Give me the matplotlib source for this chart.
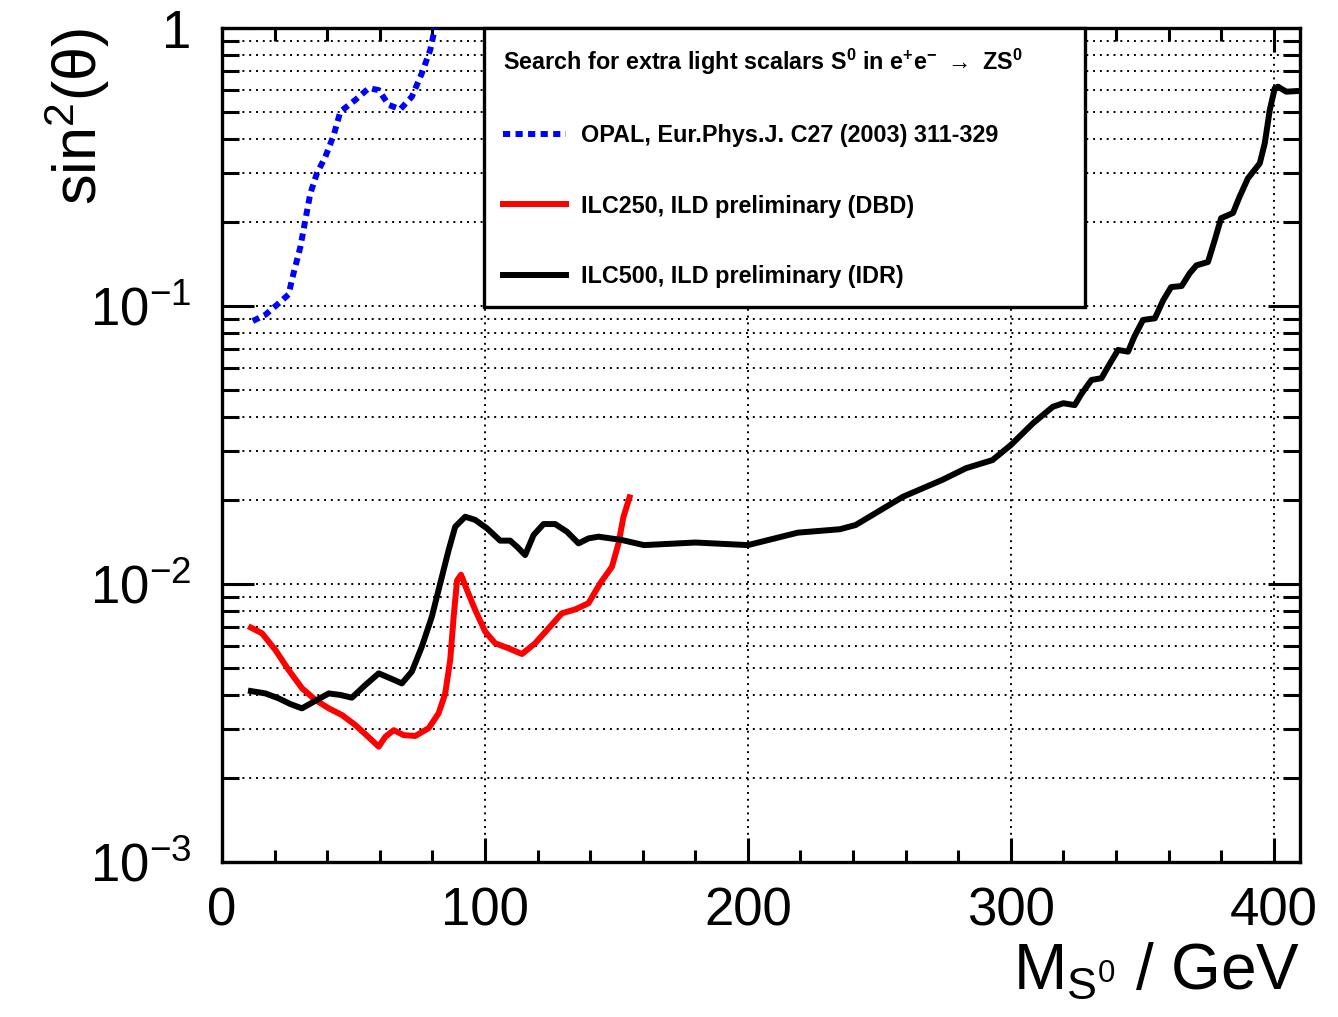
import matplotlib
matplotlib.use("Agg")
import matplotlib.pyplot as plt
from matplotlib.ticker import FixedLocator, FixedFormatter, LogLocator, NullFormatter, MultipleLocator

plt.rcParams['font.family'] = ['Liberation Sans', 'DejaVu Sans']
plt.rcParams['mathtext.default'] = 'regular'

# OPAL limit (blue dotted)
mass_opal = [11.7, 16.5, 20.9, 25.3, 27.2, 29.8, 31.7, 33.6, 36.1, 39.3, 42.5, 45,
             50.7, 55.8, 59.6, 63.4, 67.8, 72.2, 76, 79.2, 81]
sin2_opal = [0.0883, 0.093, 0.101, 0.11, 0.131, 0.163, 0.204, 0.254, 0.30, 0.344, 0.412, 0.5,
             0.551, 0.607, 0.598, 0.529, 0.51, 0.566, 0.687, 0.834, 1.0]

# ILC250, DBD
mass_ilc250 = [11, 15.2, 20.3, 25.3, 30.4, 35.5, 40.6, 45.6, 50.7, 55.8, 59.6, 62.1, 65.3,
               69.1, 73.5, 78.6, 82.4, 84.9, 86.8, 88.1, 89.4, 90.9, 93.2, 96.3, 100.1, 103.9,
               109, 114.1, 119.1, 124.2, 129.3, 134.3, 139.4, 143.8, 148.3, 150.8, 152.7, 155]
sin2_ilc250 = [0.00697, 0.00665, 0.00579, 0.00491, 0.00422, 0.00383, 0.00357, 0.00338, 0.00311,
               0.00281, 0.0026, 0.00282, 0.00298, 0.00286, 0.00284, 0.00303, 0.00343, 0.00404,
               0.00533, 0.00762, 0.0103, 0.0108, 0.0095, 0.00806, 0.00674, 0.00612, 0.00587,
               0.0056, 0.00612, 0.00693, 0.00785, 0.0081, 0.00853, 0.01005, 0.01153, 0.014,
               0.01746, 0.0205]

# ILC500, IDR
mass_ilc500 = [11, 16.5, 21.5, 26, 30.4, 35.5, 40.6, 45, 49.4, 54.5, 59.6, 64, 68.4, 72.2, 76,
               79.8, 83, 86.2, 88.7, 92.5, 96.3, 100.8, 105.8, 109.6, 112.2, 115.3, 118.5, 122.3,
               126.7, 131.2, 135.6, 139.4, 143.2, 152, 160.5, 180, 200, 219, 235, 241, 259, 274,
               283, 293, 300, 308.5, 316, 320, 324.3, 327, 330.7, 334.5, 337, 340.8, 344.6, 347,
               350.3, 354.8, 358, 361, 365, 368, 370.6, 375, 377.6, 380, 384.5, 387, 390.2, 394.7,
               396.6, 398.5, 400.4, 401.6, 404.8, 408.5]
sin2_ilc500 = [0.00412, 0.00404, 0.00388, 0.0037, 0.00357, 0.0038, 0.00404, 0.00399, 0.0039,
               0.00433, 0.00477, 0.00458, 0.00439, 0.00484, 0.00595, 0.00762, 0.01005, 0.01325,
               0.01607, 0.01746, 0.0170, 0.01585, 0.01432, 0.01432, 0.01362, 0.01271, 0.0150,
               0.01643, 0.01643, 0.01542, 0.0140, 0.01459, 0.0148, 0.0144, 0.0138, 0.0141, 0.0138,
               0.0153, 0.01574, 0.0163, 0.0206, 0.0237, 0.0261, 0.0279, 0.0316, 0.0379, 0.0434,
               0.0447, 0.044, 0.0485, 0.0542, 0.055, 0.0605, 0.0695, 0.0685, 0.0776, 0.0891,
               0.0903, 0.105, 0.117, 0.118, 0.131, 0.14, 0.144, 0.173, 0.207, 0.216, 0.247, 0.288,
               0.326, 0.385, 0.507, 0.607, 0.615, 0.59, 0.593]

y_ticks = [1e-3, 1e-2, 1e-1, 1]
y_ticklabels = [r'$10^{-3}$', r'$10^{-2}$', r'$10^{-1}$', '1']

legend_title = r'Search for extra light scalars S$^{0}$ in e$^{+}$e$^{-}$ $\rightarrow$ ZS$^{0}$'
label_opal = 'OPAL, Eur.Phys.J. C27 (2003) 311-329'
label_ilc250 = 'ILC250, ILD preliminary (DBD)'
label_ilc500 = 'ILC500, ILD preliminary (IDR)'

fig = plt.figure(figsize=(13.38, 10.17), dpi=100)
ax = fig.add_axes([222 / 1338, 1 - 862 / 1017, 1078 / 1338, 834 / 1017])

ax.plot(mass_opal, sin2_opal, color='#0000ff', lw=4.3, linestyle=(0, (1.2, 0.9)),
        dash_capstyle='butt', label=label_opal, zorder=3)
ax.plot(mass_ilc250, sin2_ilc250, color='#ff0000', lw=4.3, solid_joinstyle='round',
        label=label_ilc250, zorder=3)
ax.plot(mass_ilc500, sin2_ilc500, color='black', lw=4.3, solid_joinstyle='round',
        label=label_ilc500, zorder=3)

ax.set_yscale('log')
ax.set_xlim(0, 410)
ax.set_ylim(1e-3, 1)

ax.yaxis.set_major_locator(FixedLocator(y_ticks))
ax.yaxis.set_major_formatter(FixedFormatter(y_ticklabels))
ax.yaxis.set_minor_locator(LogLocator(base=10, subs=range(2, 10)))
ax.yaxis.set_minor_formatter(NullFormatter())
ax.xaxis.set_major_locator(MultipleLocator(100))
ax.xaxis.set_minor_locator(MultipleLocator(20))

for s in ax.spines.values():
    s.set_linewidth(2.4)

ax.tick_params(which='both', direction='in', top=True, right=True, width=2.2)
ax.tick_params(axis='y', which='major', length=23, pad=22, labelsize=38)
ax.tick_params(axis='y', which='minor', length=12)
ax.tick_params(axis='x', which='major', length=17, pad=18, labelsize=38)
ax.tick_params(axis='x', which='minor', length=9)

grid_style = dict(color='black', linestyle=(0, (1, 2.5)), linewidth=1.4)
ax.grid(True, axis='y', which='both', **grid_style)
ax.grid(True, axis='x', which='major', **grid_style)

ax.set_xlabel(r'$M_{S^{0}}$ / GeV', fontsize=46, ha='right', va='top')
ax.xaxis.set_label_coords(1.0, -0.095)
ax.set_ylabel(r'sin$^{2}$($\theta$)', fontsize=44, ha='right')
ax.yaxis.set_label_coords(-0.102, 1.0)

leg = ax.legend(loc='upper left', bbox_to_anchor=(0.243, 0.0, 0.558, 1.0), mode='expand',
                borderaxespad=0, title=legend_title, alignment='left', fancybox=False,
                title_fontsize=16.8, prop={'weight': 'bold', 'size': 16.8},
                handlelength=2.7, handletextpad=0.64, labelspacing=2.03, borderpad=0.8,
                framealpha=1, edgecolor='black')
leg.get_title().set_fontweight('bold')
leg.get_frame().set_linewidth(2.4)
leg.set_zorder(5)

fig.savefig('out.png', dpi=100)
